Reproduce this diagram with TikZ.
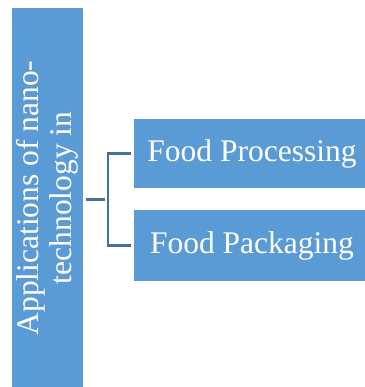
\documentclass[tikz,border=0pt]{standalone}
\usepackage{fontspec}
\setmainfont{Liberation Serif}
\definecolor{boxblue}{HTML}{5B9BD5}
\definecolor{linkblue}{HTML}{41719C}
\begin{document}
\begin{tikzpicture}[
    x=1pt, y=-1pt,
    box/.style={fill=boxblue, text=white, inner sep=0pt, font=\fontsize{31.5}{33}\selectfont},
    link/.style={draw=linkblue, line width=2.6pt, shorten <=3pt, shorten >=3pt}
  ]

    % Page frame
    \useasboundingbox (0,0) rectangle (364,387);

    % Main topic (rotated bar)
    \node[box, rotate=90, minimum width=380pt, minimum height=71pt, align=center]
      (app) at (47.5,198) {Applications of nano-\\technology in};

    % Branches (running off the right edge)
    \node[box, minimum width=236pt, minimum height=69pt] (proc) at (252,153.5) {Food Processing};
    \node[box, minimum width=236pt, minimum height=71pt] (pack) at (252,245.5) {Food Packaging};

    % Connectors
    \coordinate (fork) at (108,199.5);
    \draw[link] (app.south |- fork) -- (fork);
    \draw[link] (proc.west) -| (fork) |- (pack.west);

  \end{tikzpicture}
\end{document}
